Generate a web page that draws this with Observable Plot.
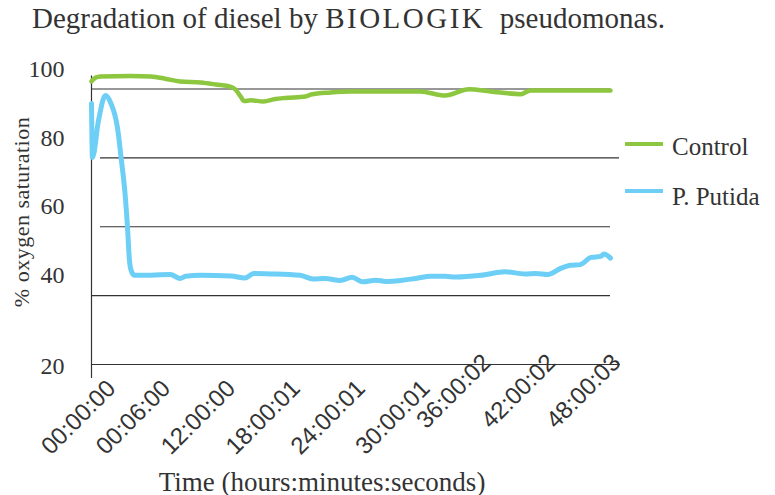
<!DOCTYPE html>
<html>
<head>
<meta charset="utf-8">
<script src="https://cdn.jsdelivr.net/npm/d3@7"></script>
<script src="https://cdn.jsdelivr.net/npm/@observablehq/plot@0.6"></script>
<style>
  html, body { margin: 0; padding: 0; background: #fff; }
  #wrap { position: relative; width: 775px; height: 495px; overflow: hidden; }
  #wrap svg { position: absolute; left: 0; top: 0; }
  .serif { font-family: "Liberation Serif", "DejaVu Serif", serif; color: #333; position: absolute; white-space: nowrap; }
  #title { left: 32px; top: 0px; font-size: 29px; line-height: 36px; }
  #title .sp { letter-spacing: 2.5px; }
  #ylabel { left: 22px; top: 212px; font-size: 22px; transform: translate(-50%, -50%) rotate(-90deg); letter-spacing: 0.5px; }
  #xlabel { left: 322px; top: 482px; font-size: 27px; transform: translate(-50%, -50%); }
  .leg { position: absolute; left: 625px; width: 38px; height: 4px; }
  .legtext { left: 672px; font-size: 25px; transform: translateY(-50%); }
</style>
</head>
<body>
<div id="wrap">
  <div id="title" class="serif">Degradation of diesel by <span class="sp">BIOLOGIK</span>&nbsp; pseudomonas.</div>
  <div id="ylabel" class="serif">% oxygen saturation</div>
  <div id="xlabel" class="serif">Time (hours:minutes:seconds)</div>
  <div id="legend"></div>
</div>
<script>
// ---- data ----
const seriesNames = ["Control", "P. Putida"];
const seriesColors = ["#8dc63f", "#6dcff6"];

const xTickHours = [0, 6, 12, 18, 24, 30, 36, 42, 48];
const xTickLabels = ["00:00:00", "00:06:00", "12:00:00", "18:00:01", "24:00:01", "30:00:01", "36:00:02", "42:00:02", "48:00:03"];
const yTicks = [20, 40, 60, 80, 100];

const controlHours = [0, 0.37, 0.83, 3.6, 5.5, 6.8, 8.2, 10.1, 11.5, 12.9, 13.3, 13.8, 14.1, 14.7, 15.9, 17.0, 17.9, 19.8, 20.3, 22.1, 24.0, 30.4, 32.7, 34.9, 36.9, 39.7, 40.6, 48.0];
const controlValues = [102.2, 103.3, 103.6, 103.8, 103.6, 103.0, 102.2, 101.9, 101.3, 100.6, 99.9, 97.8, 96.5, 96.7, 96.4, 97.1, 97.4, 97.8, 98.4, 99.0, 99.3, 99.3, 98.1, 99.9, 99.3, 98.5, 99.6, 99.6];

const putidaHours = [0, 0.09, 0.65, 1.29, 1.76, 2.4, 2.77, 3.1, 3.33, 3.51, 3.7, 3.98, 4.53, 7.3, 8.2, 8.7, 10.1, 12.9, 14.2, 15.0, 16.6, 19.3, 20.5, 21.6, 23.0, 24.1, 25.1, 26.3, 27.2, 28.6, 30.0, 31.4, 32.7, 33.7, 36.0, 38.3, 40.1, 41.1, 42.2, 43.4, 44.3, 45.2, 46.2, 47.1, 47.4, 48.0];
const putidaValues = [95.8, 80.1, 90.9, 98.1, 96.1, 88.8, 79.2, 69.7, 59.8, 50.2, 47.0, 45.9, 45.9, 46.1, 45.0, 45.6, 45.9, 45.7, 45.1, 46.4, 46.3, 45.9, 44.8, 45.0, 44.4, 45.3, 44.0, 44.5, 44.1, 44.4, 45.0, 45.6, 45.6, 45.4, 45.9, 46.9, 46.3, 46.4, 46.1, 47.9, 48.8, 49.0, 51.1, 51.4, 52.1, 50.9];

// ---- tables built from the arrays ----
const control = controlHours.map((h, i) => ({hours: h, value: controlValues[i]}));
const putida = putidaHours.map((h, i) => ({hours: h, value: putidaValues[i]}));
const fmtX = d => xTickLabels[xTickHours.indexOf(d)];

const serif = "Liberation Serif";
const sans = "Liberation Sans";
const ink = "#333";
const xAxisStyle = {tickSize: 0, tickRotate: -45, tickFormat: fmtX, label: null, fontFamily: sans, fontSize: 24, fill: ink};

const chart = Plot.plot({
  width: 775,
  height: 495,
  marginLeft: 91,
  marginRight: 165,
  marginTop: 88.5,
  marginBottom: 131,
  x: {domain: [0, 48]},
  y: {domain: [20, 100]},
  style: {background: "transparent", color: ink, overflow: "visible"},
  marks: [
    Plot.ruleY([yTicks[4], yTicks[1]], {stroke: ink, strokeWidth: 1.2}),
    Plot.ruleY([yTicks[3]], {stroke: ink, strokeWidth: 1.2, insetLeft: 9, insetRight: -9}),
    Plot.ruleY([yTicks[2]], {stroke: ink, strokeWidth: 1.2, insetLeft: 9}),
    Plot.ruleY([yTicks[0]], {stroke: ink, strokeWidth: 1.2, insetRight: -10}),
    Plot.ruleX([xTickHours[0]], {stroke: ink, strokeWidth: 1.2, insetTop: -13, insetBottom: -14}),
    Plot.line(control, {x: "hours", y: "value", stroke: seriesColors[0], strokeWidth: 4.5, curve: "monotone-x"}),
    Plot.line(putida, {x: "hours", y: "value", stroke: seriesColors[1], strokeWidth: 5, curve: "monotone-x"}),
    Plot.axisY(yTicks.slice(1), {tickSize: 0, tickPadding: 27, dy: -20, label: null, fontFamily: serif, fontSize: 24, fill: ink}),
    Plot.axisY(yTicks.slice(0, 1), {tickSize: 0, tickPadding: 27, dy: 2, label: null, fontFamily: serif, fontSize: 24, fill: ink}),
    Plot.axisX(xTickHours.slice(0, 1), {...xAxisStyle, dx: 20, dy: 8}),
    Plot.axisX(xTickHours.slice(1, 6), {...xAxisStyle, dx: 10, dy: 8}),
    Plot.axisX(xTickHours.slice(6), {...xAxisStyle, dx: 6, dy: -18})
  ]
});
document.getElementById("wrap").appendChild(chart);

// legend
const legend = document.getElementById("legend");
const swatchTops = [144, 191];
const labelTops = [147, 197];
seriesNames.forEach((name, i) => {
  const sw = document.createElement("div");
  sw.className = "leg";
  sw.style.top = (swatchTops[i] - 2) + "px";
  sw.style.background = seriesColors[i];
  legend.appendChild(sw);
  const t = document.createElement("div");
  t.className = "serif legtext";
  t.style.top = labelTops[i] + "px";
  t.textContent = name;
  legend.appendChild(t);
});
</script>
</body>
</html>
